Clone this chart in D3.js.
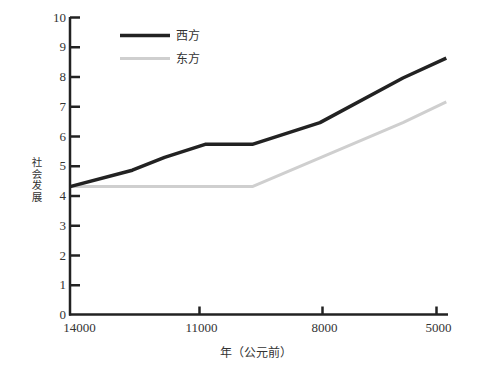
<!DOCTYPE html>
<html><head><meta charset="utf-8">
<script src="https://cdn.jsdelivr.net/npm/d3@7"></script>
<style>
body{margin:0;background:#fff;}
svg{display:block;}
</style></head>
<body>
<svg id="chart" width="482" height="369"></svg>
<script>
const xTicks = [14000, 11000, 8000, 5000];
const yTicks = [0,1,2,3,4,5,6,7,8,9,10];
const westYears = [14000, 12550, 11800, 10850, 9700, 8050, 5870, 4700];
const westValues = [4.3, 4.85, 5.28, 5.72, 5.72, 6.45, 7.95, 8.62];
const eastYears = [14000, 9700, 5870, 4700];
const eastValues = [4.3, 4.3, 6.45, 7.15];
const seriesNames = ["西方", "东方"];
const xTitle = "年（公元前）";
const yTitle = "社会发展";

const svg = d3.select("#chart");
const x = d3.scaleLinear().domain([14000, 11000, 8000, 5000, 4650]).range([70, 199, 322, 436, 448]);
const y = d3.scaleLinear().domain([0, 10]).range([314.5, 17]);
const serif = "'Liberation Serif','Times New Roman',serif";
const cjk = "'Noto Sans CJK SC','Noto Sans',sans-serif";

// series
const line = d3.line().x(d => x(d[0])).y(d => y(d[1]));
const east = eastYears.map((v, i) => [v, eastValues[i]]);
const west = westYears.map((v, i) => [v, westValues[i]]);
svg.append("path").datum(east).attr("d", line).attr("fill", "none")
  .attr("stroke", "#cfcfcf").attr("stroke-width", 3).attr("stroke-linejoin", "round");
svg.append("path").datum(west).attr("d", line).attr("fill", "none")
  .attr("stroke", "#222").attr("stroke-width", 3.5).attr("stroke-linejoin", "round");

// y axis
const ya = svg.append("g").attr("transform", "translate(70,0)")
  .call(d3.axisLeft(y).tickValues(yTicks).tickSize(-10).tickPadding(4).tickFormat(d3.format("d")));
ya.select(".domain").remove();
ya.selectAll(".tick line").attr("stroke", "#222").attr("stroke-width", 2.5);
ya.selectAll(".tick text").attr("font-family", serif).attr("font-size", 13).attr("fill", "#333");
ya.selectAll(".tick").filter(d => d === 0).select("line").remove();

// x axis
const xa = svg.append("g").attr("transform", "translate(0,314.5)")
  .call(d3.axisBottom(x).tickValues(xTicks).tickSize(-8).tickPadding(8).tickFormat(d3.format("d")));
xa.select(".domain").remove();
xa.selectAll(".tick line").attr("stroke", "#222").attr("stroke-width", 2.5);
xa.selectAll(".tick").filter(d => d === 14000).select("line").remove();
xa.selectAll(".tick text").attr("font-family", serif).attr("font-size", 13).attr("fill", "#333")
  .attr("dx", d => d === 14000 ? 9 : 2);

// axis lines
svg.append("line").attr("x1", 70).attr("x2", 70).attr("y1", 17).attr("y2", 315.5)
  .attr("stroke", "#222").attr("stroke-width", 2.5);
svg.append("line").attr("x1", 69).attr("x2", 448).attr("y1", 314.5).attr("y2", 314.5)
  .attr("stroke", "#222").attr("stroke-width", 2.5);

// titles
svg.append("text").attr("x", 256).attr("y", 357).attr("text-anchor", "middle")
  .attr("font-family", cjk).attr("font-size", 12).attr("fill", "#333").text(xTitle);
svg.append("text").attr("x", 37).attr("y", 157)
  .style("writing-mode", "vertical-rl").attr("letter-spacing", 1)
  .attr("font-family", cjk).attr("font-size", 10.5).attr("fill", "#333").text(yTitle);

// legend
const legend = [{name: seriesNames[0], color: "#222", w: 3.5, yy: 35.5},
                {name: seriesNames[1], color: "#cfcfcf", w: 3, yy: 58.5}];
const lg = svg.append("g").selectAll("g").data(legend).join("g");
lg.append("line").attr("x1", 120).attr("x2", 170).attr("y1", d => d.yy).attr("y2", d => d.yy)
  .attr("stroke", d => d.color).attr("stroke-width", d => d.w);
lg.append("text").attr("x", 176).attr("y", d => d.yy + 4.5)
  .attr("font-family", cjk).attr("font-size", 12).attr("fill", "#333").text(d => d.name);
</script>
</body></html>
